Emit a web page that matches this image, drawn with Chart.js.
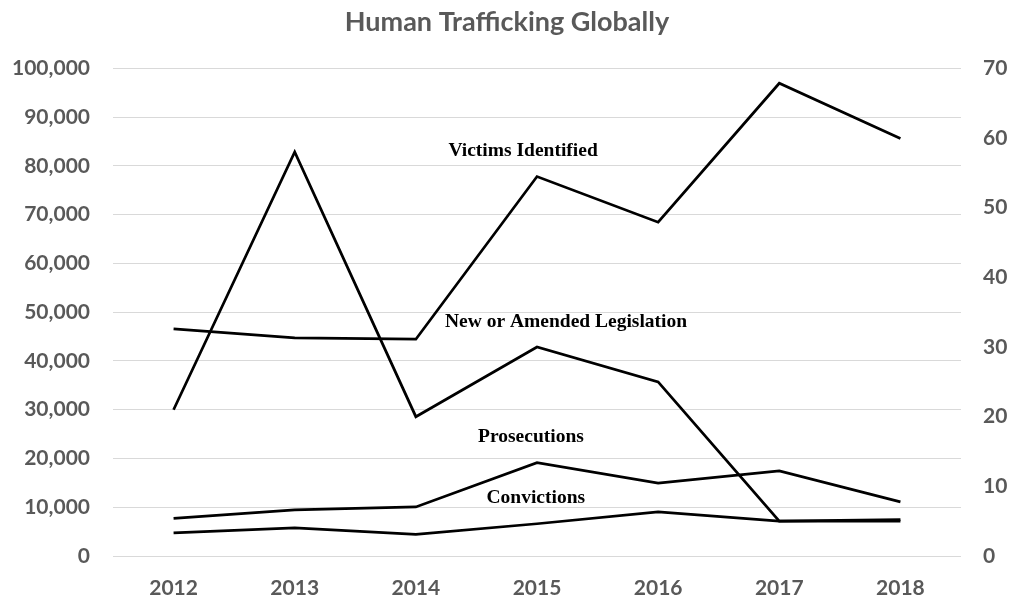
<!DOCTYPE html>
<html>
<head>
<meta charset="utf-8">
<title>Human Trafficking Globally</title>
<script src="https://cdn.jsdelivr.net/npm/chart.js@4/dist/chart.umd.min.js"></script>
<style>
  html, body { margin: 0; padding: 0; background: #fff; }
  #wrap { width: 1014px; height: 601px; position: relative; }
</style>
</head>
<body>
<div id="wrap"><canvas id="chart1"></canvas></div>
<script>
/* -------------------------------- DATA ----------------- */
const years = ["2012", "2013", "2014", "2015", "2016", "2017", "2018"];
const victimsIdentified = [46570, 44758, 44462, 77823, 68453, 96960, 85613];
const newLegislation = [21, 58, 20, 30, 25, 5, 5];
const prosecutions = [7705, 9460, 10051, 19127, 14939, 17471, 11096];
const convictions = [4746, 5776, 4443, 6615, 9072, 7135, 7481];

const leftTicks = [0, 10000, 20000, 30000, 40000, 50000, 60000, 70000, 80000, 90000, 100000];
const rightTicks = [0, 10, 20, 30, 40, 50, 60, 70];

/* text labels next to the lines (x = category index, y = left axis value) */
const lineLabels = [
    { text: "Victims Identified", x: 2.885, y: 83000 },
    { text: "New or Amended Legislation", x: 3.24, y: 48000 },
    { text: "Prosecutions", x: 2.95, y: 24400 },
    { text: "Convictions", x: 2.99, y: 11900 }
];

const grey = "#595959";
const tickFont = { family: "Lato", size: 21, weight: "bold" };

/* draws the serif labels on top of the lines */
const lineLabelPlugin = {
    id: "lineLabels",
    afterDatasetsDraw(chart) {
        const c = chart.ctx;
        const xs = chart.scales.x;
        const ys = chart.scales.y;
        c.save();
        c.font = "bold 19.5px 'Liberation Serif'";
        c.fillStyle = "#000";
        c.textAlign = "center";
        c.textBaseline = "middle";
        lineLabels.forEach((l) => {
            c.fillText(l.text, xs.getPixelForValue(l.x), ys.getPixelForValue(l.y));
        });
        c.restore();
    }
};

function lineSet(values, axis) {
    return {
        data: values,
        yAxisID: axis,
        borderColor: "#000",
        borderWidth: 2.75,
        pointRadius: 0,
        tension: 0,
        fill: false
    };
}

const ctx1 = document.getElementById("chart1").getContext("2d");

const config1 = {
    type: "line",
    data: {
        labels: years,
        datasets: [
            lineSet(victimsIdentified, "y"),
            lineSet(newLegislation, "y1"),
            lineSet(prosecutions, "y"),
            lineSet(convictions, "y")
        ]
    },
    options: {
        responsive: true,
        maintainAspectRatio: false,
        animation: false,
        layout: { padding: { left: 0, right: 0, top: 0, bottom: 0 } },
        scales: {
            x: {
                offset: true,
                grid: { display: false, drawTicks: false, offset: true },
                border: { display: false },
                ticks: { color: grey, font: tickFont, padding: 20, maxRotation: 0 },
                afterFit(scale) { scale.height = 45; }
            },
            y: {
                position: "left",
                min: 0,
                max: 100000,
                afterBuildTicks(scale) { scale.ticks = leftTicks.map((v) => ({ value: v })); },
                grid: { color: "#d9d9d9", lineWidth: 1, drawTicks: false },
                border: { display: false },
                ticks: {
                    color: grey,
                    font: tickFont,
                    padding: 23,
                    callback: (v) => v.toLocaleString("en-US")
                },
                afterFit(scale) { scale.width = 113; }
            },
            y1: {
                position: "right",
                min: 0,
                max: 70,
                afterBuildTicks(scale) { scale.ticks = rightTicks.map((v) => ({ value: v })); },
                grid: { display: false, drawTicks: false },
                border: { display: false },
                ticks: { color: grey, font: tickFont, padding: 22 },
                afterFit(scale) { scale.width = 53; }
            }
        },
        plugins: {
            legend: { display: false },
            tooltip: { enabled: false },
            title: {
                display: true,
                text: "Human Trafficking Globally",
                color: grey,
                font: { family: "Lato", size: 27, weight: "bold", lineHeight: 1.2 },
                padding: { top: 6, bottom: 30 }
            }
        }
    },
    plugins: [lineLabelPlugin]
};

const myChart1 = new Chart(ctx1, config1);
</script>
</body>
</html>
